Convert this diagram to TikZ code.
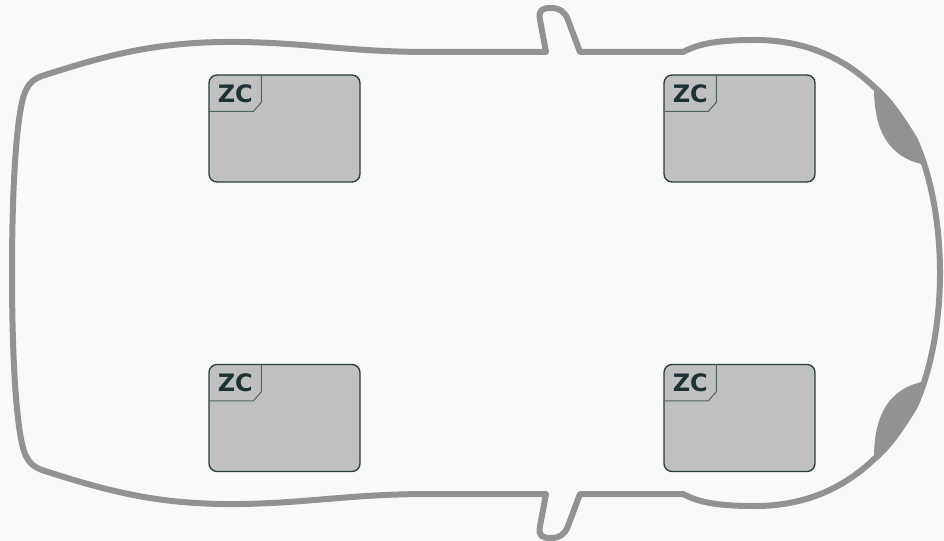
\documentclass[tikz,border=0pt]{standalone}
\usepackage{fontspec}
\setsansfont{DejaVu Sans}
\usetikzlibrary{calc}

\definecolor{paper}{RGB}{249,249,249}
\definecolor{bodygray}{RGB}{146,146,146}
\definecolor{zcfill}{RGB}{192,192,192}
\definecolor{zcline}{RGB}{40,60,62}
\definecolor{zctab}{RGB}{80,100,102}
\definecolor{zctext}{RGB}{30,50,52}

\begin{document}
\begin{tikzpicture}[x=0.75pt,y=-0.75pt,font=\sffamily\bfseries,
  body/.style={draw=bodygray,line width=4.5pt,line join=round},
  zcbox/.style={draw=zcline,fill=zcfill,line width=1pt,rounded corners=6pt,
    minimum width=113.25pt,minimum height=80.25pt,inner sep=0pt},
  zctabline/.style={draw=zctab,line width=0.8pt},
  zclabel/.style={text=zctext,font=\sffamily\bfseries\fontsize{18}{18}\selectfont,inner sep=0pt}]
  \fill[paper] (0,0) rectangle (944,541);
  \useasboundingbox (0,0) rectangle (944,541);

  % rear light blobs
  \fill[bodygray] (874,83) .. controls (873,130) and (888,158) .. (926,165)
    .. controls (912,125) and (895,100) .. (874,83) -- cycle;
  \fill[bodygray] (874,463) .. controls (873,416) and (888,388) .. (926,381)
    .. controls (912,421) and (895,446) .. (874,463) -- cycle;

  % car body, top half then bottom half
  \draw[body] (12,273) .. controls (12,170) and (18,105) .. (26,90)
    .. controls (30,82) and (34,79) .. (42,76)
    .. controls (110,54) and (160,41) .. (240,42)
    .. controls (310,43) and (350,52) .. (430,52) -- (546,52)
    -- (540,20) .. controls (538,10) and (542,8) .. (551,8)
    .. controls (560,8) and (565,12) .. (568,20) -- (580,52) -- (683,52)
    .. controls (700,43) and (720,40) .. (755,40)
    .. controls (830,40) and (880,80) .. (915,140)
    .. controls (933,180) and (940,230) .. (940,273)
    .. controls (940,316) and (933,366) .. (915,406)
    .. controls (880,466) and (830,506) .. (755,506)
    .. controls (720,506) and (700,503) .. (683,494) -- (580,494)
    -- (568,526) .. controls (565,534) and (560,538) .. (551,538)
    .. controls (542,538) and (538,536) .. (540,526) -- (546,494) -- (430,494)
    .. controls (350,494) and (310,503) .. (240,504)
    .. controls (160,505) and (110,492) .. (42,470)
    .. controls (34,467) and (30,464) .. (26,456)
    .. controls (18,441) and (12,376) .. (12,273) -- cycle;

  % zone controllers
  \foreach \n/\x/\y in {zc1/284.5/128.5, zc2/739.5/128.5, zc3/284.5/418, zc4/739.5/418}{
    \node[zcbox] (\n) at (\x,\y) {};
    \draw[zctabline] ($(\n.north west)+(53,0)$) -- ++(0,28) -- ++(-8,9)
      -- ($(\n.north west)+(0,37)$);
    \node[zclabel] (\n-lbl) at ($(\n.north west)+(27,19)$) {ZC};
  }
\end{tikzpicture}
\end{document}
